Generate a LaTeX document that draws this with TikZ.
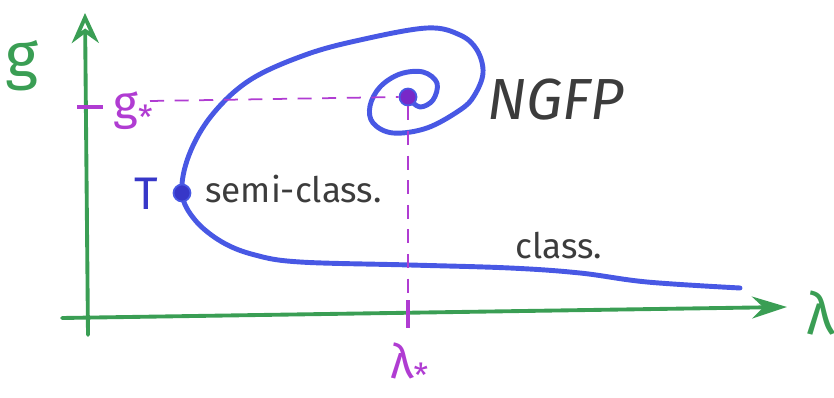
\documentclass[tikz,border=0pt]{standalone}
\usepackage{fontspec}
\setmainfont{Fira Sans}
\usetikzlibrary{arrows.meta}

\definecolor{axisgreen}{RGB}{58,158,84}
\definecolor{flowblue}{RGB}{72,88,228}
\definecolor{dotblue}{RGB}{55,55,200}
\definecolor{fpmagenta}{RGB}{176,60,210}
\definecolor{fppurple}{RGB}{120,40,200}
\definecolor{inkgray}{RGB}{60,60,60}

\begin{document}
\begin{tikzpicture}[
        x=0.02cm, y=-0.02cm,
        % --- styles ---
        axis/.style={draw=axisgreen, line width=2.2pt, line cap=round},
        flow/.style={draw=flowblue, line width=2.8pt, line cap=round, line join=round},
        guide/.style={draw=fpmagenta, line width=1pt, dash pattern=on 8pt off 6pt},
        marker/.style={draw=fpmagenta, line width=2pt},
        fixdot/.style={circle, inner sep=0pt, minimum size=0.34cm},
        hand/.style={text=inkgray, inner sep=0pt},
        axislabel/.style={text=axisgreen, inner sep=0pt, font=\fontsize{36}{36}\selectfont},
        starlabel/.style={text=fpmagenta, inner sep=0pt, font=\fontsize{27}{27}\selectfont}
    ]
    \useasboundingbox (0,0) rectangle (834,398);

    % ==================== axes ====================
    \coordinate (yfoot) at (88,335);
    \coordinate (ytip)  at (85,13);
    \coordinate (xfoot) at (62,318);
    \coordinate (xtip)  at (787,307);
    \draw[axis, -{Stealth[open, length=6mm, width=5.4mm]}] (yfoot) -- (ytip);
    \draw[axis, -{Stealth[length=7mm, width=4.4mm]}] (xfoot) -- (xtip);

    \node[axislabel] (glabel) at (22,66) {g};
    \node[axislabel, anchor=base west, font=\fontsize{33}{33}\selectfont] (lambdalabel) at (806,334) {λ};

    % ==================== fixed point guides ====================
    \coordinate (gtickL) at (77,107);
    \coordinate (gtickR) at (103,107);
    \coordinate (gdash)  at (150,101);
    \coordinate (ldash)  at (408,300);
    \coordinate (ltick)  at (408,328);
    \draw[marker] (gtickL) -- (gtickR);
    \draw[marker] (ldash) -- (ltick);

    \node[starlabel, anchor=base west] (gstar) at (113,120) {g\textsubscript{*}};
    \node[starlabel, anchor=base west] (lstar) at (390,378) {λ\textsubscript{*}};

    % ==================== flow ====================
    \draw[flow] plot[smooth, tension=0.6] coordinates {
        (740,288) (647,282) (580,273) (510,268) (410,265) (300,262)
        (255,255) (222,242) (195,220) (182,193) (189,155) (212,115)
        (250,80) (305,55) (360,40) (427,28) (460,35) (477,50)
        (483,73) (474,96) (460,110) (427,128) (393,133) (373,123)
        (370,106) (380,87) (400,74) (423,72) (437,83) (433,100)
        (420,107) (409,99)};

    \node[fixdot, fill=fppurple, draw=flowblue, line width=1pt] (ngfp) at (408,97) {};
    \node[fixdot, fill=dotblue, draw=flowblue, line width=1pt] (tpoint) at (182,193) {};

    \draw[guide] (gdash) -- (ngfp.west);
    \draw[guide] (ngfp.south) -- (ldash);

    % ==================== labels ====================
    \node[hand, anchor=base west, font=\itshape\fontsize{33}{33}\selectfont] (ngfplabel) at (487,120) {NGFP};
    \node[inner sep=0pt, text=dotblue, font=\fontsize{26}{26}\selectfont] (tlabel) at (146,194) {T};
    \node[hand, anchor=base west, font=\fontsize{20}{20}\selectfont] (semilabel) at (205,203) {semi-class.};
    \node[hand, anchor=base west, font=\fontsize{20}{20}\selectfont] (classlabel) at (515,258) {class.};

\end{tikzpicture}
\end{document}
